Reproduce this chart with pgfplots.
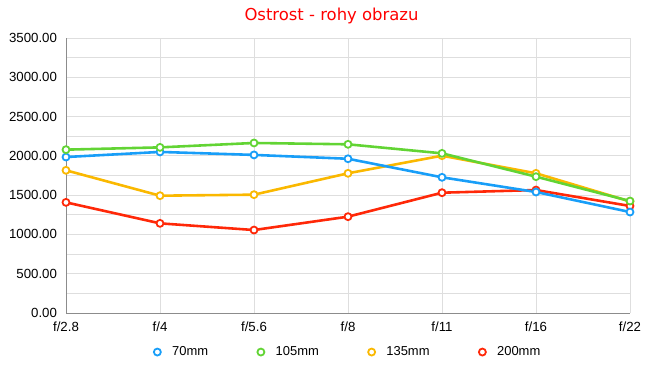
\documentclass[border=0pt]{standalone}
\usepackage{fontspec}
\setmainfont{Liberation Sans}
\newfontfamily\titlefont{DejaVu Sans}
\usepackage{pgfplots}
\pgfplotsset{compat=1.18}
\definecolor{cblue}{RGB}{24,158,248}
\definecolor{cgreen}{RGB}{98,212,52}
\definecolor{cyellow}{RGB}{250,184,0}
\definecolor{cred}{RGB}{255,40,8}
\definecolor{gridc}{RGB}{222,222,222}
\definecolor{axc}{RGB}{140,140,140}
\begin{document}
\begin{tikzpicture}
\useasboundingbox (0,0) rectangle (650bp,365bp);
\node[font=\titlefont\fontsize{16.5}{19}\selectfont, text=red, anchor=base] at (331.5bp,344.3bp) {Ostrost - rohy obrazu};
\begin{axis}[
  at={(66bp,52bp)}, anchor=south west,
  scale only axis, width=564bp, height=275bp,
  xmin=0, xmax=6, ymin=0, ymax=3500,
  xtick={0,...,6},
  xticklabels={f/2.8,f/4,f/5.6,f/8,f/11,f/16,f/22},
  ytick={0,500,...,3500},
  minor ytick={250,750,...,3250},
  grid=both,
  major grid style={gridc, line width=0.8pt},
  minor grid style={gridc, line width=0.8pt},
  major tick length=0pt, minor tick length=0pt,
  axis x line*=bottom, axis y line*=left,
  axis line style={axc, line width=0.8pt, -},
  tick label style={font=\fontsize{13.3}{15}\selectfont, text=black},
  yticklabel style={xshift=-5.5bp},
  xticklabel style={yshift=-5bp},
  /pgf/number format/.cd, fixed, fixed zerofill, precision=2, 1000 sep={}, assume math mode=true,
  /pgfplots/.cd,
  every axis plot/.append style={line width=2.6pt, mark=*, mark size=3.5pt,
     mark options={fill=white, line width=1.8pt}},
  legend columns=4,
  legend style={draw=none, fill=none, at={(rel axis cs:0.499,-0.142)}, anchor=center,
     font=\fontsize{13}{15}\selectfont,
     /tikz/every even column/.append style={column sep=46bp}},
  legend image code/.code={\path[draw=none, fill=none] (0cm,0cm) -- (0.62cm,0cm); \draw[#1] plot coordinates {(0.17cm,0cm)};},
  clip=false,
]
\addlegendimage{cblue}\addlegendentry{70mm}
\addlegendimage{cgreen}\addlegendentry{105mm}
\addlegendimage{cyellow}\addlegendentry{135mm}
\addlegendimage{cred}\addlegendentry{200mm}
% 135mm
\addplot[cyellow, forget plot] coordinates {(0,1816) (1,1493) (2,1506) (3,1778) (4,2002) (5,1778) (6,1420)};
% 200mm
\addplot[cred, forget plot] coordinates {(0,1408) (1,1141) (2,1056) (3,1226) (4,1531) (5,1565) (6,1362)};
% 70mm
\addplot[cblue, forget plot] coordinates {(0,1985) (1,2050) (2,2012) (3,1963) (4,1727) (5,1540) (6,1285)};
% 105mm
\addplot[cgreen, forget plot] coordinates {(0,2079) (1,2108) (2,2164) (3,2147) (4,2032) (5,1735) (6,1425)};
\end{axis}
\end{tikzpicture}
\end{document}
